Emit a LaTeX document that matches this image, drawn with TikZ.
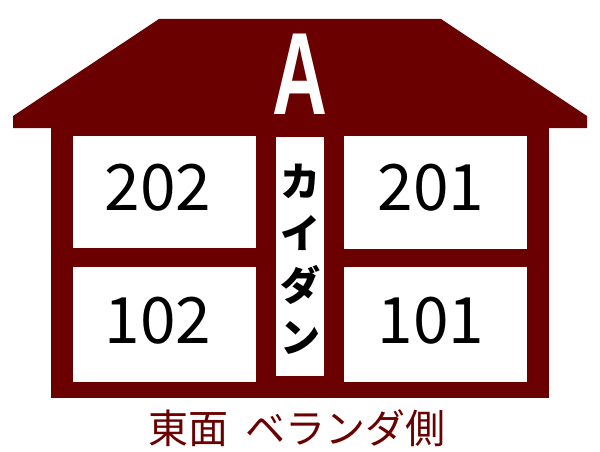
\documentclass[tikz,border=0pt]{standalone}
\usepackage{fontspec}
\newfontfamily\jp{Noto Sans CJK JP}
\newfontfamily\asans{Liberation Sans}
\definecolor{house}{RGB}{107,0,0}
\begin{document}
\begin{tikzpicture}[x=1pt,y=-1pt,
  room/.style={fill=white},
  num/.style={font=\jp\fontsize{64}{64}\selectfont, text=black, inner sep=0pt},
  stairtext/.style={font=\jp\bfseries\fontsize{40}{52}\selectfont, align=center, inner sep=0pt, text=black},
  caption/.style={font=\jp\fontsize{40}{40}\selectfont, text=house, inner sep=0pt}]
\useasboundingbox (0,0) rectangle (600,452);
% roof
\fill[house] (159,19) -- (441,19) -- (587,116) -- (587,128) -- (13,128) -- (13,116) -- cycle;
% body
\fill[house] (51,126) rectangle (549,398);
% rooms
\fill[room] (73,136) rectangle (256,248);
\fill[room] (73,267) rectangle (256,382);
\fill[room] (344,136) rectangle (527,249);
\fill[room] (344,267) rectangle (527,382);
% stair
\fill[room] (276,137) rectangle (324,376);
% texts
\node[font=\asans\bfseries\fontsize{117}{117}\selectfont, text=white, inner sep=0pt] (lblA) at (300,74) {\scalebox{0.65}[1]{A}};
\node[num] (n202) at (158,188) {202};
\node[num] (n102) at (158,321) {102};
\node[num] (n201) at (431,188) {201};
\node[num] (n101) at (431,321) {101};
\node[stairtext] (stair) at (300,259) {カ\\イ\\ダ\\ン};
\node[caption] (cap) at (297,428) {東面\hspace{0.45em}ベランダ側};
\end{tikzpicture}
\end{document}
